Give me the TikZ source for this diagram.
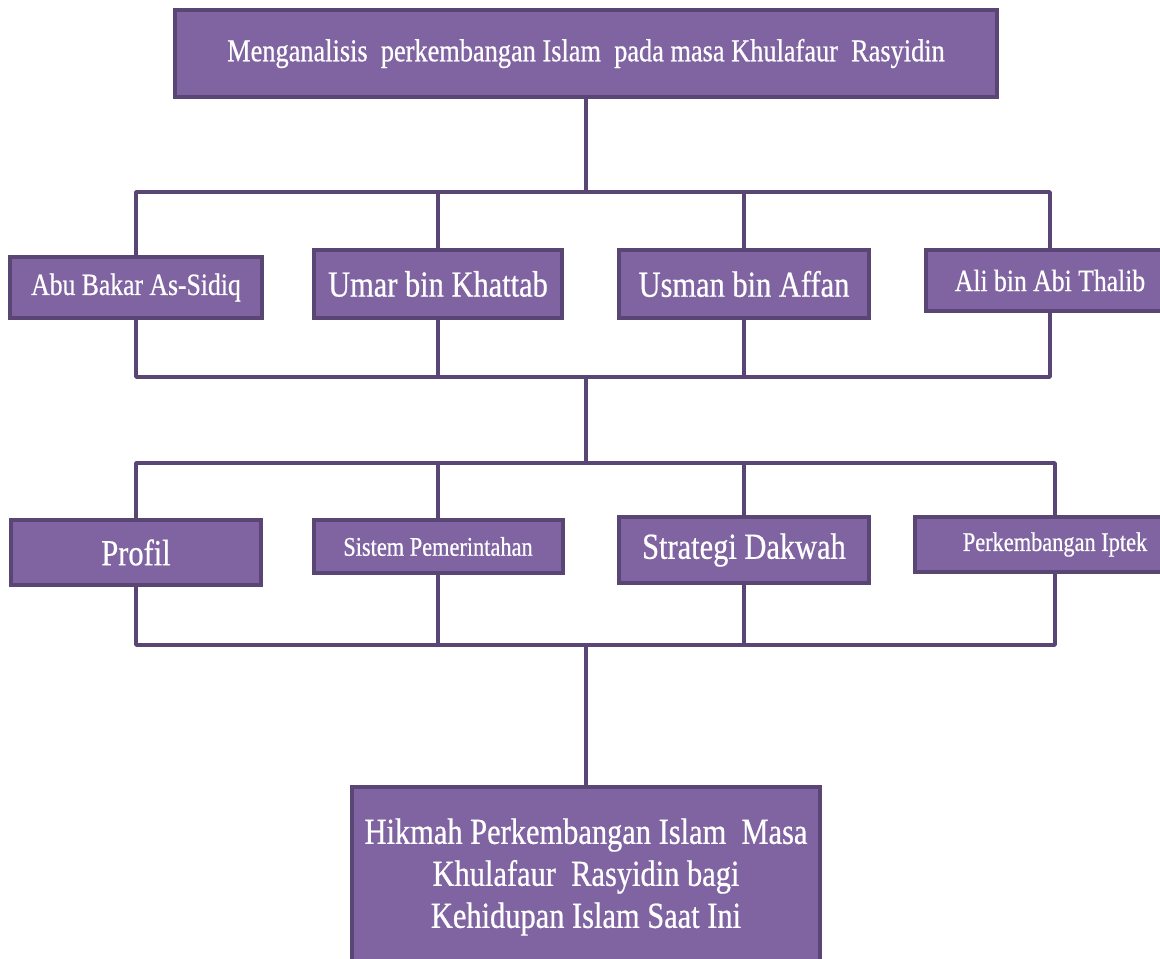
\documentclass[tikz,border=0pt]{standalone}
\usepackage{fontspec}
\setmainfont{Liberation Serif}[FakeStretch=0.83, FakeBold=0.6]
\definecolor{cpurple}{HTML}{8064A2}
\definecolor{cdark}{HTML}{5A4674}
\tikzset{
  every picture/.style={line width=2.6pt},
  box/.style={draw=cdark, fill=cpurple, text=white, align=center, inner sep=4pt, line width=3pt},
  link/.style={draw=cdark, line width=2.6pt, line join=round},
  big/.style={font=\fontsize{27.5}{31.5}\selectfont},
  mid/.style={font=\fontsize{23.2}{28}\selectfont},
  small/.style={font=\fontsize{20.2}{24}\selectfont},
}

\begin{document}
\begin{tikzpicture}[x=0.75pt, y=-0.75pt]
  \useasboundingbox (0,0) rectangle (1160,958);
  % goal
  \node[box, font=\fontsize{23.8}{28}\selectfont, minimum width=617pt, minimum height=65pt] (goal) at (586,53.5)
    {Menganalisis~ perkembangan Islam~ pada masa Khulafaur~ Rasyidin};
  % khalifah
  \node[box, mid, minimum width=189pt, minimum height=45.75pt] (abu) at (136,287.5) {Abu Bakar As-Sidiq};
  \node[box, big, minimum width=186pt, minimum height=51pt] (umar) at (438,284) {Umar bin Khattab};
  \node[box, big, minimum width=187.5pt, minimum height=51pt] (usman) at (744,284) {Usman bin Affan};
  \node[box, mid, minimum width=186pt, minimum height=45.75pt] (ali) at (1050,280.5) {Ali bin Abi Thalib};
  % aspek
  \node[box, big, minimum width=187.5pt, minimum height=48.75pt] (profil) at (136,552.5) {Profil};
  \node[box, small, minimum width=186.75pt, minimum height=39.75pt] (sistem) at (438,546.5) {Sistem Pemerintahan};
  \node[box, big, minimum width=187.5pt, minimum height=49.5pt] (dakwah) at (744,550) {Strategi Dakwah};
  \node[box, small, minimum width=210pt, minimum height=41.25pt] (iptek) at (1055,544.5) {Perkembangan Iptek};
  % hikmah
  \node[box, big, minimum width=351pt, minimum height=135pt] (hikmah) at (586,877)
    {Hikmah Perkembangan Islam~ Masa\\Khulafaur~ Rasyidin bagi\\Kehidupan Islam Saat Ini};

  \coordinate (j1) at (586,192);
  \coordinate (j2) at (586,377);
  \coordinate (j3) at (586,463);
  \coordinate (j4) at (586,645);

  \draw[link] (goal.south) -- (j1);
  \draw[link] (abu.north) |- (j1) -| (ali.north);
  \draw[link] (abu.south) |- (j2) -| (ali.south);
  \foreach \n in {umar, usman} {
    \draw[link] (\n.north) -- (\n.north |- j1);
    \draw[link] (\n.south) -- (\n.south |- j2);
  }
  \draw[link] (j2) -- (j3);
  \draw[link] (profil.north) |- (j3) -| (iptek.north);
  \draw[link] (profil.south) |- (j4) -| (iptek.south);
  \foreach \n in {sistem, dakwah} {
    \draw[link] (\n.north) -- (\n.north |- j3);
    \draw[link] (\n.south) -- (\n.south |- j4);
  }
  \draw[link] (j4) -- (hikmah.north);
\end{tikzpicture}
\end{document}
